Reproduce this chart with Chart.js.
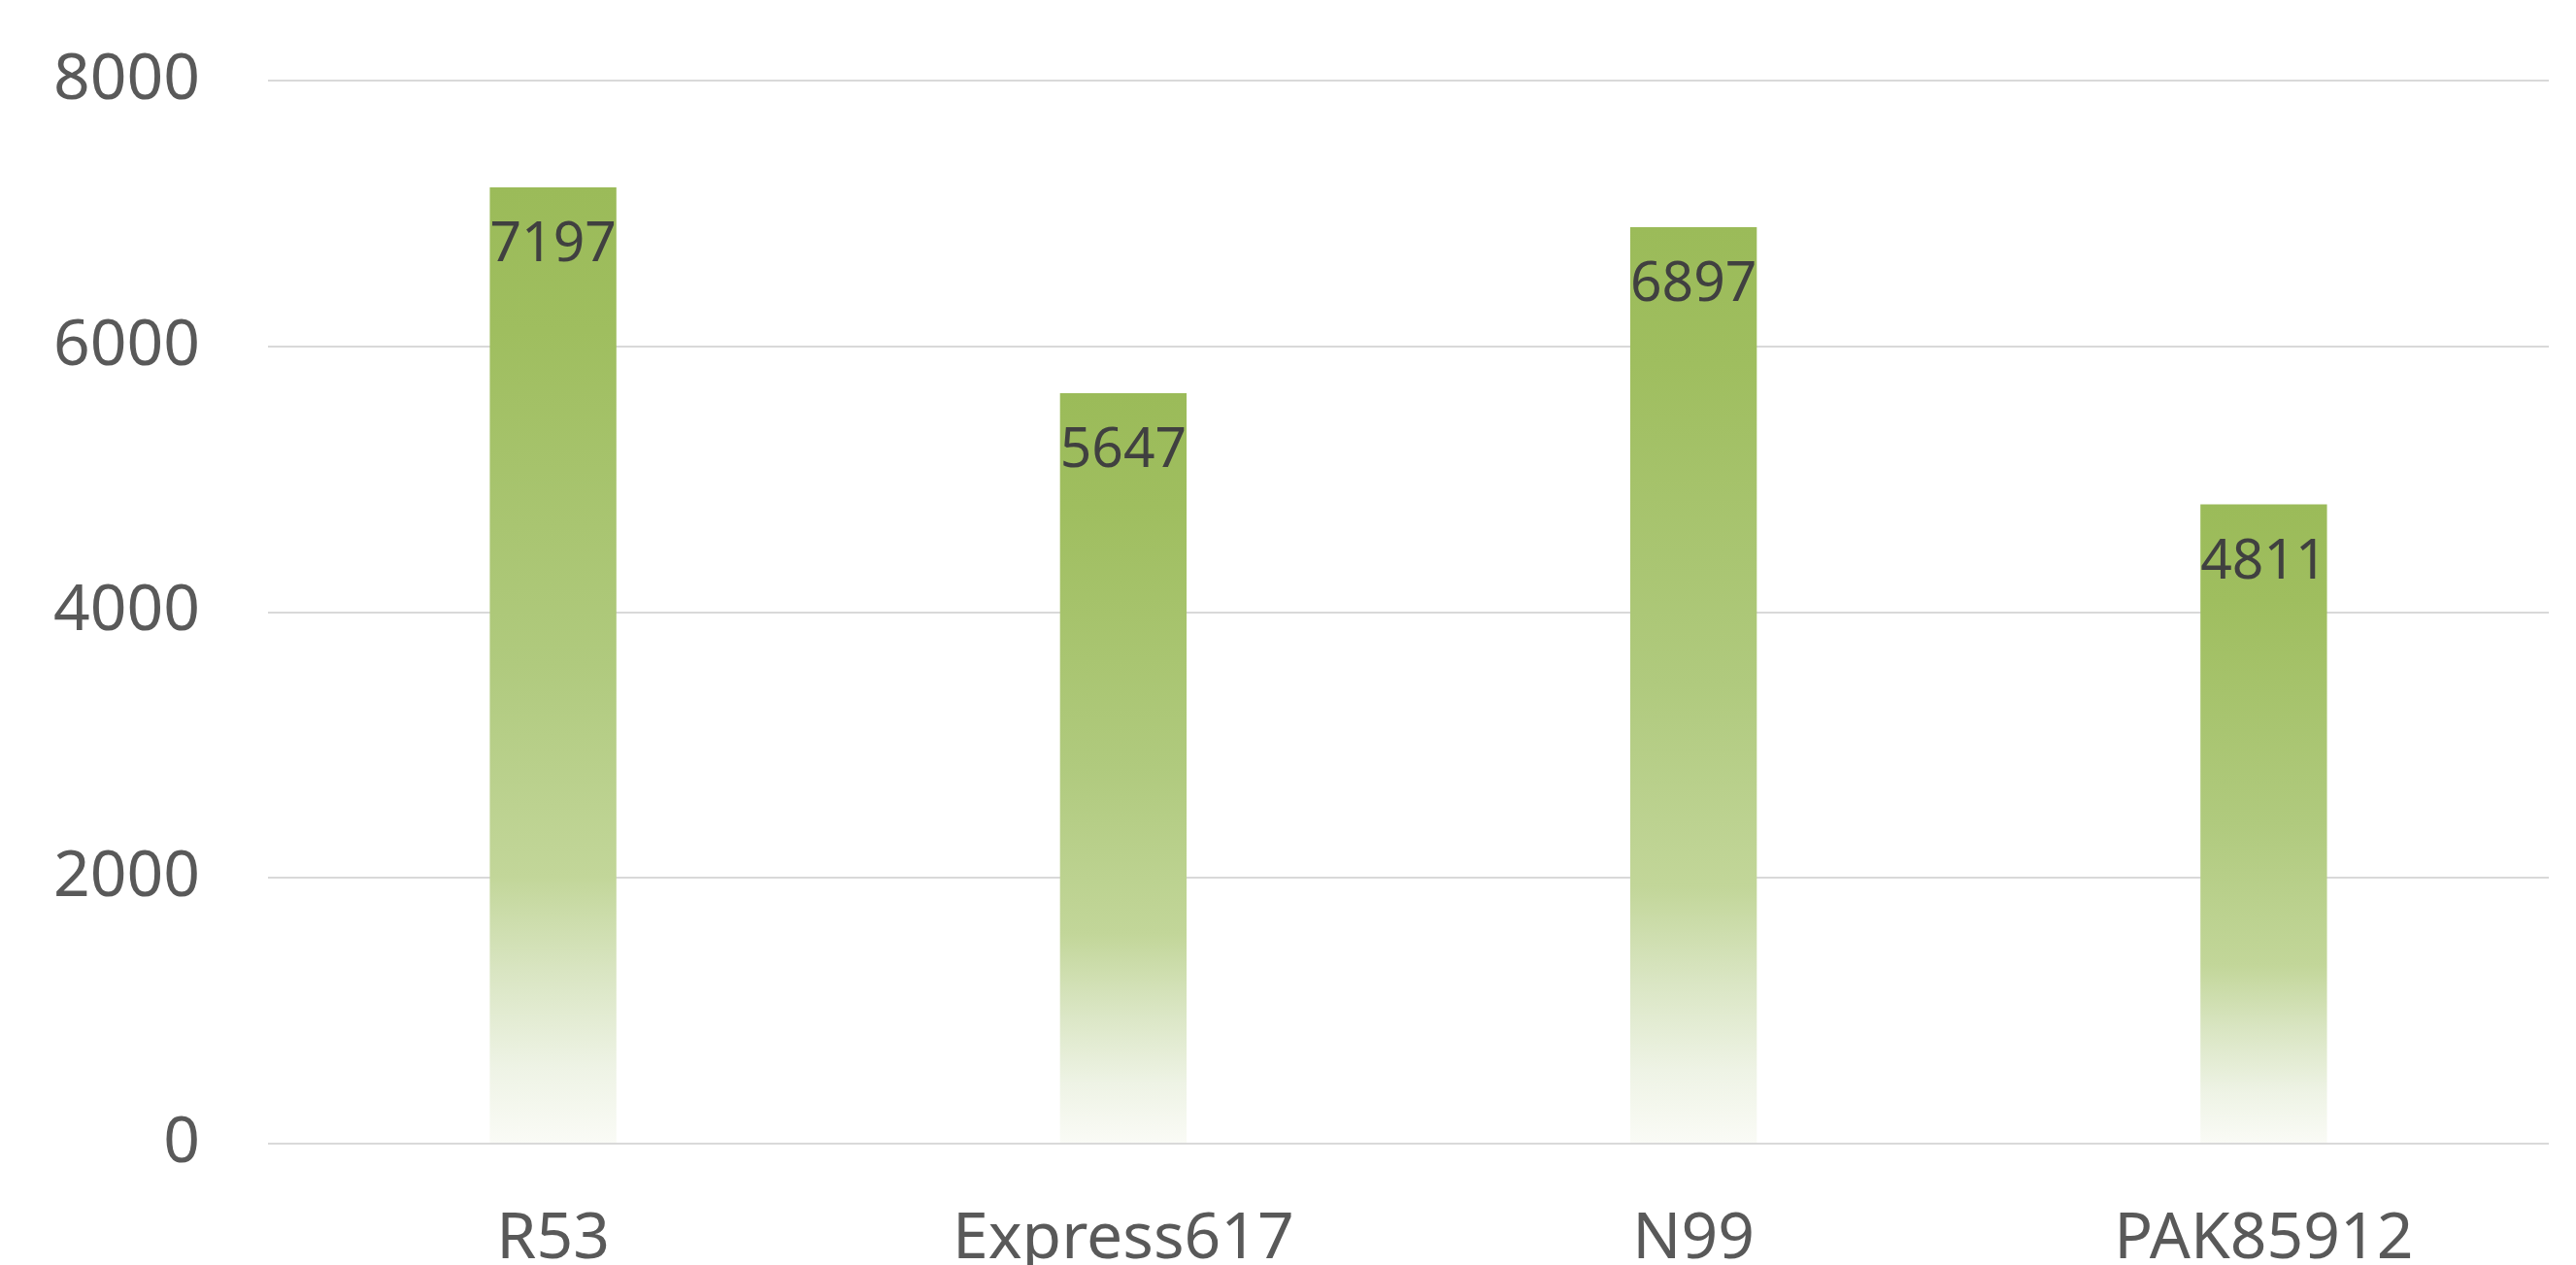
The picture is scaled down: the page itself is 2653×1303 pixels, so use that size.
<!DOCTYPE html>
<html lang="en">
<head>
  <meta charset="UTF-8">
  <title>Bar chart</title>
  <script src="https://cdn.jsdelivr.net/npm/chart.js"></script>
  <style>
    body { margin: 0; background: #fff; }
    #wrap { width: 2653px; height: 1303px; position: relative; }
  </style>
</head>
<body>
  <div id="wrap"><canvas id="chart"></canvas></div>
  <script>
    // chart data
    const categories = ['R53', 'Express617', 'N99', 'PAK85912'];
    const values = [7197, 5647, 6897, 4811];
    const yTicks = [0, 2000, 4000, 6000, 8000];

    const FONT = "'Noto Sans', sans-serif";

    // Excel style fade from green at the top of each bar to near white at its base
    function barFill(ctx) {
      const chart = ctx.chart;
      if (!chart.chartArea || ctx.type !== 'data') return '#9bbb59';
      const y = chart.scales.y;
      const top = y.getPixelForValue(ctx.raw);
      const bottom = y.getPixelForValue(0);
      const g = chart.ctx.createLinearGradient(0, top, 0, bottom);
      g.addColorStop(0, '#9bbb59');
      g.addColorStop(0.15, '#9fbe5f');
      g.addColorStop(0.5, '#b0ca7e');
      g.addColorStop(0.72, '#c2d699');
      g.addColorStop(0.82, '#d9e5c2');
      g.addColorStop(0.92, '#eef3e5');
      g.addColorStop(1, '#fafbf6');
      return g;
    }

    // value labels just inside the top of each bar
    const valueLabels = {
      id: 'valueLabels',
      afterDatasetsDraw(chart) {
        const c = chart.ctx;
        const meta = chart.getDatasetMeta(0);
        c.save();
        c.font = '57px ' + FONT;
        c.fillStyle = '#404040';
        c.textAlign = 'center';
        c.textBaseline = 'middle';
        meta.data.forEach((bar, i) => {
          c.fillText(String(values[i]), bar.x, bar.y + 60);
        });
        c.restore();
      }
    };

    new Chart(document.getElementById('chart'), {
      type: 'bar',
      data: {
        labels: categories,
        datasets: [{
          data: values,
          backgroundColor: barFill,
          borderWidth: 0,
          barPercentage: 0.222,
          categoryPercentage: 1
        }]
      },
      options: {
        responsive: true,
        maintainAspectRatio: false,
        animation: false,
        layout: { padding: { top: 83, right: 28, left: 0, bottom: 0 } },
        plugins: {
          legend: { display: false },
          tooltip: { enabled: false }
        },
        scales: {
          x: {
            grid: { display: false, drawTicks: false },
            border: { display: false },
            ticks: {
              color: '#595959',
              font: { family: FONT, size: 66 },
              padding: 60,
              maxRotation: 0
            },
            afterFit: s => { s.height = 125; }
          },
          y: {
            min: 0,
            max: 8000,
            afterBuildTicks: s => { s.ticks = yTicks.map(v => ({ value: v })); },
            grid: { color: '#d9d9d9', lineWidth: 2, drawTicks: false },
            border: { display: false },
            ticks: {
              color: '#595959',
              font: { family: FONT, size: 66 },
              padding: 70,
              callback: v => String(v)
            },
            // the big tick padding would otherwise push the plot top down
            afterFit: s => { s.width = 276; s.paddingTop = 0; s.paddingBottom = 0; }
          }
        }
      },
      plugins: [valueLabels]
    });
  </script>
</body>
</html>
